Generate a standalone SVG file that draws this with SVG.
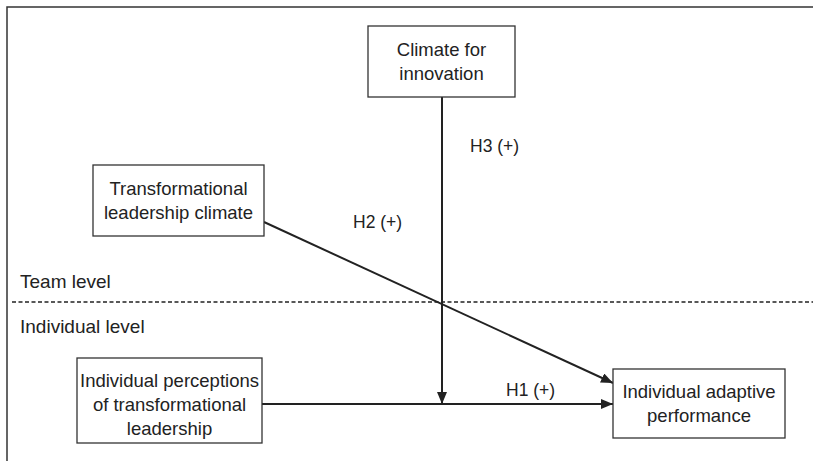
<svg xmlns="http://www.w3.org/2000/svg" width="813" height="461" viewBox="0 0 813 461">
<style>
.box{fill:#fff;stroke:#333;stroke-width:1.3}
.t{font-family:"Liberation Sans",Arial,sans-serif;font-size:18.5px;fill:#222;text-anchor:middle}
.l{font-family:"Liberation Sans",Arial,sans-serif;font-size:19px;fill:#222}
.h{font-family:"Liberation Sans",Arial,sans-serif;font-size:17.5px;fill:#222}
.c{stroke:#222;stroke-width:2;fill:none}
</style>
<defs>
<marker id="ah" viewBox="0 0 12 10" refX="12" refY="5" markerWidth="12" markerHeight="10" markerUnits="userSpaceOnUse" orient="auto">
<path d="M0,0 L12,5 L0,10 Z" fill="#222"/>
</marker>
</defs>
<rect width="813" height="461" fill="#fff"/>
<g id="frame">
<path d="M7,461 V7 H813" fill="none" stroke="#333" stroke-width="1.5"/>
<line x1="12" y1="302" x2="813" y2="302" stroke="#222" stroke-width="1.5" stroke-dasharray="4,2.5"/>
<text class="l" x="20" y="288">Team level</text>
<text class="l" x="20" y="333">Individual level</text>
</g>
<g id="connectors">
<line class="c" x1="442" y1="97" x2="442" y2="404" marker-end="url(#ah)"/>
<line class="c" x1="264" y1="222" x2="613" y2="383" marker-end="url(#ah)"/>
<line class="c" x1="262" y1="404" x2="613" y2="404" marker-end="url(#ah)"/>
<text class="h" x="470" y="152">H3 (+)</text>
<text class="h" x="353" y="228">H2 (+)</text>
<text class="h" x="506" y="396">H1 (+)</text>
</g>
<g id="climate">
<rect class="box" x="368" y="26" width="147" height="71"/>
<text class="t" x="441.5" y="56">Climate for</text>
<text class="t" x="441.5" y="80">innovation</text>
</g>
<g id="tlc">
<rect class="box" x="93" y="165" width="171" height="71"/>
<text class="t" x="178.5" y="195">Transformational</text>
<text class="t" x="178.5" y="219">leadership climate</text>
</g>
<g id="iptl">
<rect class="box" x="77" y="358" width="185" height="85"/>
<text class="t" x="169.5" y="387">Individual perceptions</text>
<text class="t" x="169.5" y="411">of transformational</text>
<text class="t" x="169.5" y="435">leadership</text>
</g>
<g id="iap">
<rect class="box" x="613" y="369" width="172" height="69"/>
<text class="t" x="699" y="398">Individual adaptive</text>
<text class="t" x="699" y="422">performance</text>
</g>
</svg>
